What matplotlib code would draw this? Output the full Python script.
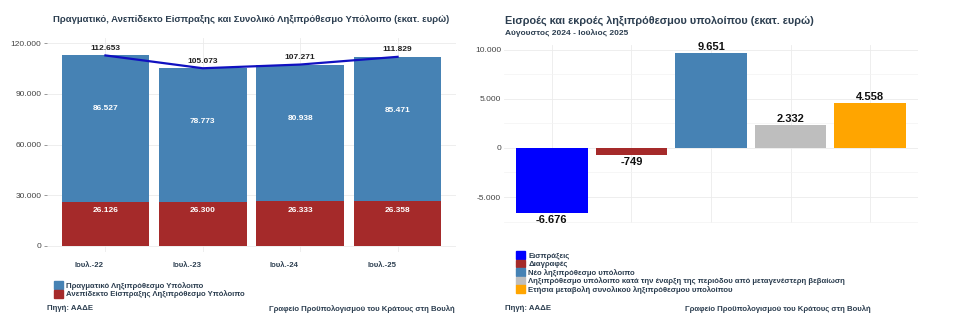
import matplotlib
matplotlib.use("Agg")
import matplotlib.pyplot as plt
from matplotlib.patches import Patch
from matplotlib.transforms import ScaledTranslation

plt.rcParams['font.family'] = ['Liberation Sans', 'DejaVu Sans']

# αριστερό γράφημα: ληξιπρόθεσμο υπόλοιπο ανά έτος
periods = ['Ιουλ.-22', 'Ιουλ.-23', 'Ιουλ.-24', 'Ιουλ.-25']
real_arrears = [86527, 78773, 80938, 85471]
uncollectible = [26126, 26300, 26333, 26358]
total_arrears = [112653, 105073, 107271, 111829]

# δεξί γράφημα: εισροές / εκροές
flow_labels = ['Εισπράξεις', 'Διαγραφές', 'Νέο ληξιπρόθεσμο υπόλοιπο',
               'Ληξιπρόθεσμο υπόλοιπο κατά την έναρξη της περιόδου από μεταγενέστερη βεβαίωση',
               'Ετήσια μεταβολή συνολικού ληξιπρόθεσμου υπολοίπου']
flow_values = [-6676, -749, 9651, 2332, 4558]
flow_colors = ['#0000FF', '#A52A2A', '#4682B4', '#BEBEBE', '#FFA500']

TXT = '#2C3E50'
GRID = '#EBEBEB'
SMALL = 5.6


def fmt(v):
    return f"{v:,.0f}".replace(',', '.')


fig = plt.figure(figsize=(9.6, 3.3), dpi=100, facecolor='white')

# ---- αριστερά ----
ax1 = fig.add_axes([47 / 960, 1 - 252 / 330, 409 / 960, 214 / 330])
x = range(len(periods))
ax1.bar(x, uncollectible, width=0.9, color='#A52A2A', zorder=2)
ax1.bar(x, real_arrears, width=0.9, bottom=uncollectible, color='#4682B4', zorder=2)
ax1.plot(x, total_arrears, color='#1010C0', lw=1.6, zorder=3)
for i in x:
    ax1.annotate(fmt(real_arrears[i]), (i, real_arrears[i]), xytext=(0, -4),
                 textcoords='offset points', ha='center', va='top',
                 color='white', fontsize=6, fontweight='bold', zorder=4)
    ax1.annotate(fmt(uncollectible[i]), (i, uncollectible[i]), xytext=(0, -4),
                 textcoords='offset points', ha='center', va='top',
                 color='white', fontsize=6, fontweight='bold', zorder=4)
    ax1.annotate(fmt(total_arrears[i]), (i, total_arrears[i]), xytext=(0, 2.5),
                 textcoords='offset points', ha='center', va='bottom',
                 color='#222222', fontsize=6, fontweight='bold', zorder=4)
ax1.set_xlim(-0.6, 3.6)
ax1.set_ylim(-3550, 122960)
ax1.set_yticks([0, 30000, 60000, 90000, 120000])
ax1.set_yticklabels([fmt(v) for v in [0, 30000, 60000, 90000, 120000]])
ax1.set_xticks(list(x))
ax1.set_xticklabels(periods)
ax1.tick_params(axis='x', length=0, pad=7, labelsize=SMALL, labelcolor=TXT)
ax1.tick_params(axis='y', length=2.5, width=0.6, color='#888888', pad=1.5,
                labelsize=6, labelcolor='#444444')
for lab in ax1.get_xticklabels():
    lab.set_fontweight('bold')
    lab.set_transform(lab.get_transform() + ScaledTranslation(-0.16, 0, fig.dpi_scale_trans))
ax1.grid(True, color=GRID, lw=0.6, zorder=0)
for s in ax1.spines.values():
    s.set_visible(False)
fig.text(251 / 960, 1 - 20 / 330,
         'Πραγματικό, Ανεπίδεκτο Είσπραξης και Συνολικό Ληξιπρόθεσμο Υπόλοιπο (εκατ. ευρώ)',
         fontsize=6.8, fontweight='bold', color=TXT, ha='center', va='center')

fig.legend(handles=[Patch(color='#4682B4', label='Πραγματικό Ληξιπρόθεσμο Υπόλοιπο'),
                    Patch(color='#A52A2A', label='Ανεπίδεκτο Είσπραξης Ληξιπρόθεσμο Υπόλοιπο')],
           loc='upper left', bbox_to_anchor=(50 / 960, 1 - 277 / 330), frameon=False,
           handlelength=1.2, handleheight=1.2, handletextpad=0.4,
           labelspacing=0.05, borderpad=0, prop={'weight': 'bold', 'size': SMALL},
           labelcolor=TXT)
fig.text(47 / 960, 1 - 309 / 330, 'Πηγή: ΑΑΔΕ', fontsize=SMALL, fontweight='bold',
         color=TXT, va='center')
fig.text(455 / 960, 1 - 309 / 330, 'Γραφείο Προϋπολογισμού του Κράτους στη Βουλή',
         fontsize=SMALL, fontweight='bold', color=TXT, va='center', ha='right')

# ---- δεξιά ----
ax2 = fig.add_axes([504 / 960, 1 - 222.5 / 330, 414 / 960, 177.5 / 330])
xf = range(len(flow_values))
ax2.bar(xf, flow_values, width=0.9, color=flow_colors, zorder=2)
for i in xf:
    v = flow_values[i]
    ax2.annotate(fmt(v), (i, v), xytext=(0, 1 if v > 0 else -1),
                 textcoords='offset points', ha='center',
                 va='bottom' if v > 0 else 'top', color='#111111',
                 fontsize=8, fontweight='bold', zorder=4)
ax2.set_xlim(-0.6, 4.6)
ax2.set_ylim(-7600, 10500)
ax2.set_yticks([-5000, 0, 5000, 10000])
ax2.set_yticklabels([fmt(v) for v in [-5000, 0, 5000, 10000]])
ax2.set_yticks([-7500, -2500, 2500, 7500], minor=True)
ax2.set_xticks(list(xf))
ax2.set_xticklabels([])
ax2.tick_params(axis='x', length=0)
ax2.tick_params(axis='y', which='both', length=0, pad=2, labelsize=6, labelcolor='#444444')
ax2.grid(True, which='major', color=GRID, lw=0.6, zorder=0)
ax2.grid(True, which='minor', axis='y', color='#F3F3F3', lw=0.5, zorder=0)
for s in ax2.spines.values():
    s.set_visible(False)

fig.text(505 / 960, 1 - 21 / 330, 'Εισροές και εκροές ληξιπρόθεσμου υπολοίπου (εκατ. ευρώ)',
         fontsize=7.8, fontweight='bold', color=TXT, va='center')
fig.text(505 / 960, 1 - 33 / 330, 'Αύγουστος 2024 - Ιούλιος 2025',
         fontsize=6, fontweight='bold', color=TXT, va='center')

fig.legend(handles=[Patch(color=c, label=l) for c, l in zip(flow_colors, flow_labels)],
           loc='upper left', bbox_to_anchor=(512 / 960, 1 - 247 / 330), frameon=False,
           handlelength=1.2, handleheight=1.2, handletextpad=0.4,
           labelspacing=0.0, borderpad=0, prop={'weight': 'bold', 'size': SMALL},
           labelcolor=TXT)
fig.text(505 / 960, 1 - 309 / 330, 'Πηγή: ΑΑΔΕ', fontsize=SMALL, fontweight='bold',
         color=TXT, va='center')
fig.text(871 / 960, 1 - 309 / 330, 'Γραφείο Προϋπολογισμού του Κράτους στη Βουλή',
         fontsize=SMALL, fontweight='bold', color=TXT, va='center', ha='right')

fig.savefig('out.png', dpi=100, facecolor='white')
